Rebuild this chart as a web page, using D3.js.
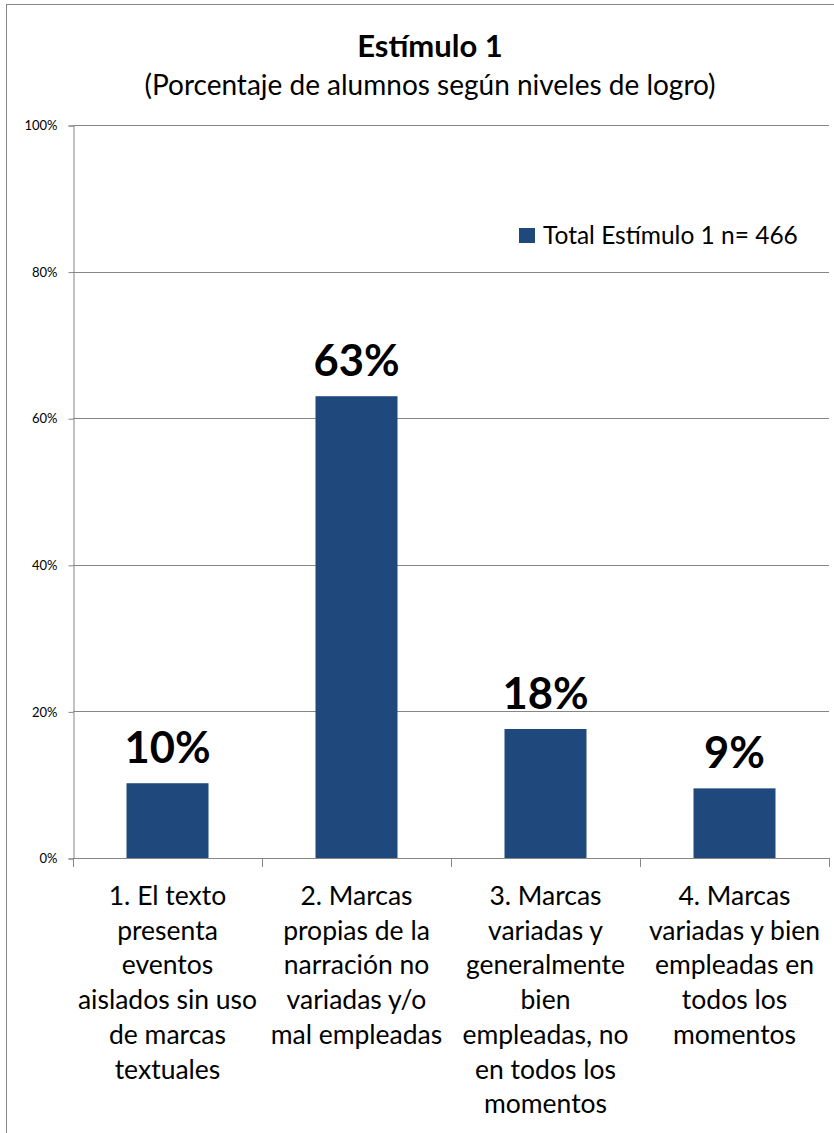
<html>
<head>
<meta charset="utf-8">
<title>Estímulo 1</title>
<script src="https://cdn.jsdelivr.net/npm/d3@7"></script>
<style>
  body { margin: 0; background: #fff; }
  svg { display: block; }
  text { font-family: Lato, "Open Sans", sans-serif; fill: #000; }
</style>
</head>
<body>
<svg></svg>
<script>
'use strict';

// chart data
const categories = ['c1', 'c2', 'c3', 'c4'];
const categoryLines = [
  ['1. El texto', 'presenta', 'eventos', 'aislados sin uso', 'de marcas', 'textuales'],
  ['2. Marcas', 'propias de la', 'narración no', 'variadas y/o', 'mal empleadas'],
  ['3. Marcas', 'variadas y', 'generalmente', 'bien', 'empleadas, no', 'en todos los', 'momentos'],
  ['4. Marcas', 'variadas y bien', 'empleadas en', 'todos los', 'momentos']
];
const values = [0.102, 0.63, 0.176, 0.095];
const valueLabels = ['10%', '63%', '18%', '9%'];
const yTicks = [0, 0.2, 0.4, 0.6, 0.8, 1.0];
const seriesName = 'Total Estímulo 1 n= 466';

const w = 834, h = 1133;
const plotLeft = 73, plotRight = 829, plotTop = 125, plotBottom = 858;
const barColor = '#1f497d';
const gridColor = '#868686';

const svg = d3.select('svg').attr('width', w).attr('height', h);

// outer chart border (cut off on right and bottom like the picture)
svg.append('rect')
  .attr('x', 6.5).attr('y', 4.5)
  .attr('width', 860).attr('height', 1160)
  .attr('fill', 'none').attr('stroke', gridColor).attr('stroke-width', 1);

const x = d3.scaleBand().domain(categories).range([plotLeft, plotRight]).paddingInner(0).paddingOuter(0);
const y = d3.scaleLinear().domain([0, 1]).range([plotBottom, plotTop]);

// gridlines
svg.append('g').selectAll('line')
  .data(yTicks.filter(d => d > 0))
  .enter().append('line')
  .attr('x1', plotLeft).attr('x2', plotRight)
  .attr('y1', d => Math.round(y(d)) + 0.5)
  .attr('y2', d => Math.round(y(d)) + 0.5)
  .attr('stroke', gridColor);

// y axis
const yAxis = svg.append('g')
  .attr('transform', `translate(${plotLeft + 0.5},0.5)`)
  .call(d3.axisLeft(y).tickValues(yTicks).tickFormat(d3.format('.0%')).tickSize(5).tickPadding(11));
yAxis.selectAll('path, line').attr('stroke', gridColor);
yAxis.selectAll('text').style('font-family', 'Lato, sans-serif').style('font-size', '13px').attr('fill', '#000');

// x axis with ticks at category boundaries
const xg = svg.append('g');
xg.append('line')
  .attr('x1', plotLeft).attr('x2', plotRight)
  .attr('y1', plotBottom + 0.5).attr('y2', plotBottom + 0.5)
  .attr('stroke', gridColor);
const bounds = categories.map(c => x(c)).concat([x(categories[categories.length - 1]) + x.bandwidth()]);
xg.selectAll('line.tick').data(bounds).enter().append('line')
  .attr('class', 'tick')
  .attr('x1', d => Math.round(d) + 0.5).attr('x2', d => Math.round(d) + 0.5)
  .attr('y1', plotBottom).attr('y2', plotBottom + 9)
  .attr('stroke', gridColor);

// bars
const barW = 82;
svg.append('g').selectAll('rect')
  .data(values)
  .enter().append('rect')
  .attr('x', (d, i) => x(categories[i]) + x.bandwidth() / 2 - barW / 2)
  .attr('width', barW)
  .attr('y', d => y(d))
  .attr('height', d => plotBottom - y(d))
  .attr('fill', barColor);

// data labels
svg.append('g').selectAll('text')
  .data(values)
  .enter().append('text')
  .attr('x', (d, i) => x(categories[i]) + x.bandwidth() / 2)
  .attr('y', d => y(d) - 20)
  .attr('text-anchor', 'middle')
  .style('font-size', '43.5px').style('font-weight', 'bold')
  .text((d, i) => valueLabels[i]);

// category labels
const cat = svg.append('g').selectAll('text')
  .data(categoryLines)
  .enter().append('text')
  .attr('text-anchor', 'middle')
  .style('font-size', '26.5px');
cat.each(function (lines, i) {
  const cx = x(categories[i]) + x.bandwidth() / 2;
  d3.select(this).selectAll('tspan').data(lines).enter().append('tspan')
    .attr('x', cx)
    .attr('y', (d, j) => 905 + j * 34.7)
    .text(d => d);
});

// title
svg.append('text')
  .attr('x', 430).attr('y', 57)
  .attr('text-anchor', 'middle')
  .style('font-size', '31px').style('font-weight', 'bold')
  .text('Estímulo 1');
svg.append('text')
  .attr('x', 430).attr('y', 95)
  .attr('text-anchor', 'middle')
  .style('font-size', '28px')
  .text('(Porcentaje de alumnos según niveles de logro)');

// legend
const legend = svg.append('g');
legend.append('rect')
  .attr('x', 519).attr('y', 228).attr('width', 16).attr('height', 15)
  .attr('fill', barColor);
legend.append('text')
  .attr('x', 543).attr('y', 244)
  .style('font-size', '24.5px')
  .text(seriesName);
</script>
</body>
</html>
